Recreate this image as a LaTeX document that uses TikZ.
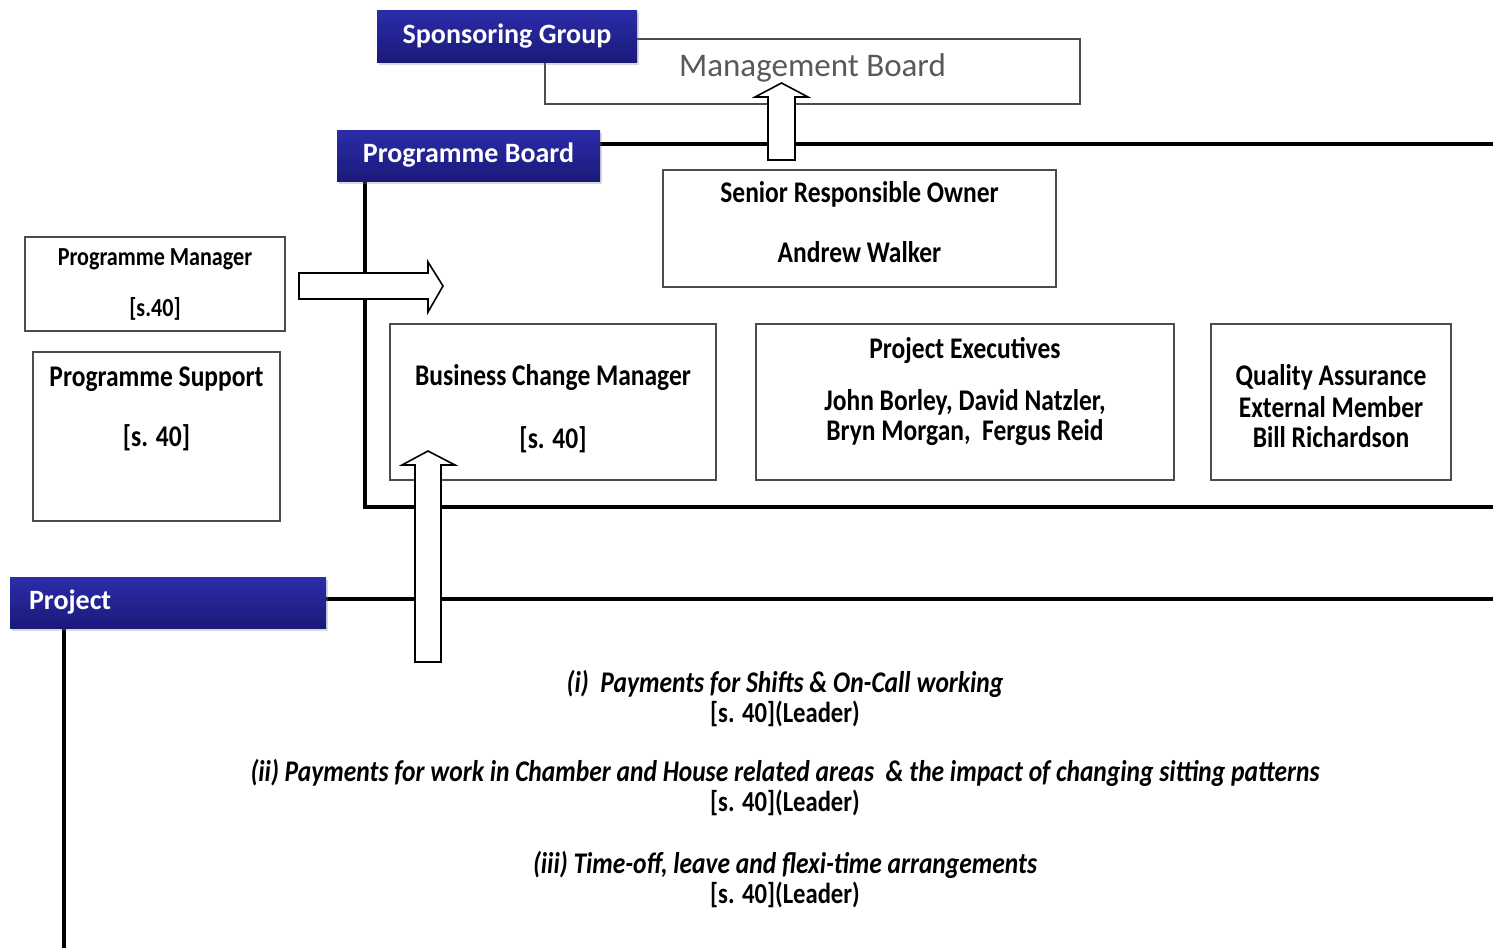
\documentclass[tikz,border=0pt]{standalone}
\usepackage{fontspec}
\setmainfont{Carlito}
\newfontfamily\narrowfont[FakeStretch=0.85]{Carlito}
\usetikzlibrary{shadows}

\definecolor{tabtop}{RGB}{44,44,170}
\definecolor{tabbottom}{RGB}{26,26,122}

\tikzset{
  tab/.style={top color=tabtop, bottom color=tabbottom, draw=none, text=white,
    font=\fontsize{14}{16}\selectfont\bfseries, inner sep=0,
    drop shadow={opacity=0.3,shadow xshift=1pt,shadow yshift=-1.5pt}},
  box/.style={draw=black!70, line width=1pt, fill=white, align=center, inner sep=0,
    font=\narrowfont\fontsize{15}{15}\selectfont\bfseries},
  frame/.style={line width=1.6pt},
  blockarrow/.style={draw, fill=white, line width=0.8pt, line join=miter},
  item/.style={align=center, font=\narrowfont\fontsize{14.5}{15}\selectfont\bfseries}
}

\begin{document}
\begin{tikzpicture}[x=0.5pt,y=-0.5pt]
    \useasboundingbox (0,0) rectangle (1493,948);
    % lines of the groups
    \draw[frame] (600,144) -- (1493,144);
    \draw[frame] (365,181) |- (1493,507);
    \draw[frame] (326,599) -- (1493,599);
    \draw[frame] (64,628) -- (64,948);

    \node[box, font=\fontsize{16.5}{19}\selectfont, text=black!65, minimum width=267.5pt, minimum height=32.5pt] (mb) at (812.5,71.5) {Management Board\\[-13pt]};
    \node[tab, minimum width=130pt, minimum height=26pt] (sg) at (507,36) {Sponsoring Group};
    \node[tab, minimum width=131.5pt, minimum height=25.5pt] (pb) at (468.5,155.5) {Programme Board};
    \node[tab, text width=139pt, inner xsep=9.5pt, minimum height=25.5pt, align=left] (proj) at (168,602.5) {Project};

    \node[box, minimum width=196.5pt, minimum height=58.5pt] (sro) at (859.5,228.5) {Senior Responsible Owner\\[15pt]Andrew Walker\\[-8pt]};
    \node[box, font=\narrowfont\fontsize{13}{15}\selectfont\bfseries, minimum width=130pt, minimum height=47pt] (pm) at (155,284) {Programme Manager\\[10.5pt][s.40]};
    \node[box, minimum width=123.5pt, minimum height=84.5pt] (ps) at (156.5,436.5) {Programme Support\\[15pt][s. 40]\\[15pt]\mbox{}};
    \node[box, minimum width=163pt, minimum height=78pt] (bcm) at (553,402) {\rule{0pt}{17pt}Business Change Manager\\[16.5pt][s. 40]};
    \node[box, minimum width=209pt, minimum height=78pt] (pe) at (965,402) {Project Executives\\[11pt]John Borley, David Natzler,\\Bryn Morgan,\ \ Fergus Reid\\[-2pt]};
    \node[box, minimum width=120pt, minimum height=78pt] (qa) at (1331,402) {\rule{0pt}{15pt}Quality Assurance\\[1pt]External Member\\Bill Richardson};

    \node[item] (pay1) at (785,698.5) {{\fontsize{15}{15}\selectfont\itshape (i)\ \ Payments for Shifts \& On-Call working}\\{}[s. 40](Leader)};
    \node[item] (pay2) at (785,788) {{\fontsize{15}{15}\selectfont\itshape (ii) Payments for work in Chamber and House related areas\ \ \& the impact of changing sitting patterns}\\{}[s. 40](Leader)};
    \node[item] (pay3) at (785,879.5) {{\fontsize{15}{15}\selectfont\itshape (iii) Time-off, leave and flexi-time arrangements}\\{}[s. 40](Leader)};

    % block arrows
    \coordinate (mbtip) at (781.5,83);
    \coordinate (pmtip) at (443,286);
    \coordinate (bcmtip) at (428,451);
    \draw[blockarrow] (mbtip) -- ++(26.5,14) -- ++(-13,0) -- ++(0,63) -- ++(-27,0) -- ++(0,-63) -- ++(-13,0) -- cycle;
    \draw[blockarrow] (pmtip) -- ++(-15,-24) -- ++(0,11) -- ++(-129,0) -- ++(0,26) -- ++(129,0) -- ++(0,13) -- cycle;
    \draw[blockarrow] (bcmtip) -- ++(27,14) -- ++(-14,0) -- ++(0,197) -- ++(-26,0) -- ++(0,-197) -- ++(-13,0) -- cycle;
\end{tikzpicture}
\end{document}
